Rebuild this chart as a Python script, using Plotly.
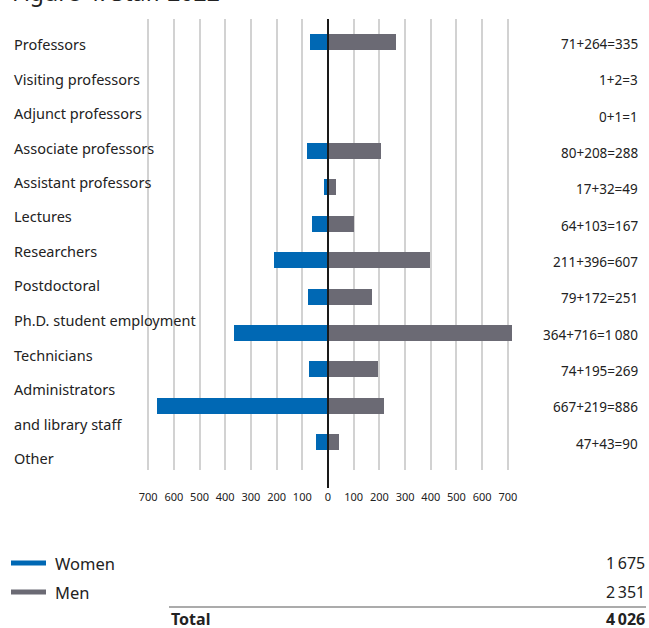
import plotly.graph_objects as go

# Staff categories (top to bottom) and head counts by gender
categories = [
    "Professors", "Visiting professors", "Adjunct professors",
    "Associate professors", "Assistant professors", "Lectures",
    "Researchers", "Postdoctoral", "Ph.D. student employment",
    "Technicians", "Administrators and library staff", "Other",
]
women = [71, 1, 0, 80, 17, 64, 211, 79, 364, 74, 667, 47]
men = [264, 2, 1, 208, 32, 103, 396, 172, 716, 195, 219, 43]

# Left-hand row labels (the administrators row wraps onto two lines)
row_labels = [
    "Professors", "Visiting professors", "Adjunct professors",
    "Associate professors", "Assistant professors", "Lectures",
    "Researchers", "Postdoctoral", "Ph.D. student employment",
    "Technicians", "Administrators", "and library staff", "Other",
]

tick_values = [-700, -600, -500, -400, -300, -200, -100, 0, 100, 200, 300, 400, 500, 600, 700]

BLUE = "#0068b4"
GREY = "#6b6a74"
TEXT = "#222222"
FONT = "Noto Sans"

W, H = 649, 628
M_L, M_R, M_T, M_B = 143, 136, 19, 158
plot_w = W - M_L - M_R
plot_h = H - M_T - M_B


def fmt(n):
    return f"{n:,}".replace(",", "\u2009")


def paper_y(py):
    return (H - M_B - py) / plot_h


def paper_x(px):
    return (px - M_L) / plot_w


idx = list(range(len(categories)))

fig = go.Figure()
fig.add_trace(go.Bar(
    x=[-v for v in women], y=idx, orientation="h", name="Women",
    marker=dict(color=BLUE, line=dict(width=0)), width=0.44,
    customdata=categories, hovertemplate="%{customdata}: %{customdata}<extra>Women</extra>",
))
fig.add_trace(go.Bar(
    x=men, y=idx, orientation="h", name="Men",
    marker=dict(color=GREY, line=dict(width=0)), width=0.44,
    customdata=categories, hovertemplate="%{customdata}: %{x}<extra>Men</extra>",
))
fig.data[0].hovertemplate = "%{customdata}: %{text}<extra>Women</extra>"
fig.data[0].text = [str(v) for v in women]
fig.data[0].textposition = "none"

annotations = []

# Title, partly above the top edge of the page
annotations.append(dict(
    text="Figure 4: Staff 2022", xref="paper", yref="paper",
    x=paper_x(10), y=paper_y(10), xanchor="left", yanchor="bottom",
    showarrow=False, font=dict(family=FONT, size=23, color=TEXT),
))

# Row labels on the left
for i, lab in enumerate(row_labels):
    annotations.append(dict(
        text=lab, xref="paper", yref="paper",
        x=paper_x(12), y=paper_y(44 + 34.5 * i),
        xanchor="left", yanchor="middle", showarrow=False,
        font=dict(family=FONT, size=14.5, color=TEXT),
    ))

# Sum labels on the right
for i, (w, m) in enumerate(zip(women, men)):
    annotations.append(dict(
        text=f"{w}+{m}={fmt(w + m)}", xref="paper", yref="y",
        x=paper_x(640), y=i + 0.05,
        xanchor="right", yanchor="middle", showarrow=False,
        font=dict(family=FONT, size=13.5, color=TEXT),
    ))

# Legend and totals block
total_w, total_m = sum(women), sum(men)
shapes = []
for py, col, name, val in [(563, BLUE, "Women", total_w), (592, GREY, "Men", total_m)]:
    shapes.append(dict(type="line", xref="paper", yref="paper",
                       x0=paper_x(11), x1=paper_x(46), y0=paper_y(py), y1=paper_y(py),
                       line=dict(color=col, width=5)))
    annotations.append(dict(text=name, xref="paper", yref="paper", x=paper_x(53), y=paper_y(py),
                            xanchor="left", yanchor="middle", showarrow=False,
                            font=dict(family=FONT, size=16.5, color=TEXT)))
    annotations.append(dict(text=fmt(val), xref="paper", yref="paper", x=paper_x(647), y=paper_y(py),
                            xanchor="right", yanchor="middle", showarrow=False,
                            font=dict(family=FONT, size=16, color=TEXT)))

shapes.append(dict(type="line", xref="paper", yref="paper",
                   x0=paper_x(169), x1=paper_x(646), y0=paper_y(607), y1=paper_y(607),
                   line=dict(color="#8f8f8f", width=1.5)))
annotations.append(dict(text="<b>Total</b>", xref="paper", yref="paper", x=paper_x(169), y=paper_y(619),
                        xanchor="left", yanchor="middle", showarrow=False,
                        font=dict(family=FONT, size=16, color=TEXT)))
annotations.append(dict(text=f"<b>{fmt(total_w + total_m)}</b>", xref="paper", yref="paper",
                        x=paper_x(647), y=paper_y(619), xanchor="right", yanchor="middle",
                        showarrow=False, font=dict(family=FONT, size=16, color=TEXT)))

# Zero line running down past the grid to the tick labels
shapes.append(dict(type="line", xref="x", yref="paper", x0=0, x1=0,
                   y0=paper_y(488), y1=1.0, line=dict(color="#1a1a1a", width=2), layer="above"))

px_per_row = 36.36
row_top = -(42 - M_T) / px_per_row
row_bottom = row_top + plot_h / px_per_row

fig.update_layout(
    width=W, height=H,
    margin=dict(l=M_L, r=M_R, t=M_T, b=M_B, pad=0),
    paper_bgcolor="white", plot_bgcolor="white",
    barmode="overlay", bargap=0, showlegend=False,
    font=dict(family=FONT, color=TEXT),
    xaxis=dict(
        range=[-720, 720], tickvals=tick_values,
        ticktext=[str(abs(v)) for v in tick_values],
        showgrid=True, gridcolor="#d2d2d2", gridwidth=1.5,
        zeroline=False, showline=False, ticks="",
        ticklabelstandoff=19,
        tickfont=dict(family=FONT, size=11, color=TEXT), fixedrange=True,
    ),
    yaxis=dict(
        range=[row_bottom, row_top], showgrid=False, zeroline=False,
        showticklabels=False, showline=False, ticks="", fixedrange=True,
    ),
    annotations=annotations, shapes=shapes,
)

fig.write_html("out.html")
